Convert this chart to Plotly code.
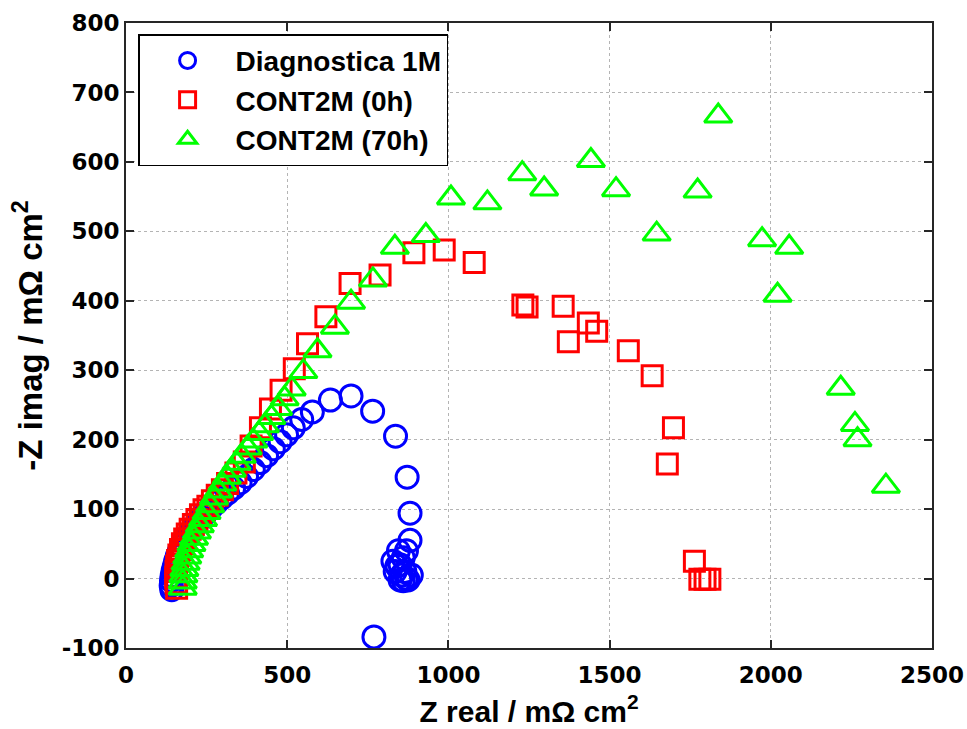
import plotly.graph_objects as go

# Nyquist data (Z real, -Z imag) in mOhm cm^2
diag_1m_re = [142, 140, 141, 143, 146, 150, 154, 159, 165, 172, 180, 189, 199, 210, 222,
              235, 249, 264, 280, 297, 315, 334, 354, 374, 395, 416, 436, 457, 478, 498,
              519, 545, 578, 634, 698, 765, 836, 872, 881, 881,
              870, 860, 850, 845, 840, 835, 828, 855, 860, 865, 870, 875, 885, 850, 769]
diag_1m_im = [-16, -10, -3, 4, 11, 18, 25, 32, 39, 46, 53, 60, 67, 74, 81,
              88, 95, 102, 109, 116, 123, 130, 138, 147, 157, 167, 177, 187, 197, 207,
              217, 229, 240, 257, 263, 241, 205, 146, 94, 55,
              40, 30, 20, 40, 18, 10, 25, 5, -3, 10, 0, -2, 5, -2, -84]

cont_0h_re = [157, 155, 154, 155, 157, 160, 164, 169, 175, 182, 190, 199, 209, 220, 231,
              242, 254, 268, 283, 299, 315, 341, 367, 388, 417, 448, 481, 522, 563, 620,
              695, 788, 893, 987, 1080, 1231, 1244, 1356, 1372, 1434, 1460, 1558, 1632,
              1698, 1679, 1763, 1780, 1796, 1811]
cont_0h_im = [-14, -6, 2, 10, 18, 26, 34, 42, 50, 57, 64, 71, 78, 85, 92,
              99, 104, 112, 120, 128, 137, 152, 168, 191, 217, 244, 271, 302, 338, 377,
              425, 437, 469, 473, 455, 394, 391, 392, 341, 368, 356, 328, 292,
              217, 165, 25, -1, -1, -1]

cont_70h_re = [176, 176, 178, 181, 185, 190, 196, 203, 211, 220, 229, 239, 250, 261, 273,
               286, 299, 313, 328, 343, 359, 377, 395, 413, 431, 451, 472, 492, 514, 550,
               594, 648, 698, 766, 834, 930, 1008, 1121, 1229, 1297, 1442, 1520, 1646,
               1773, 1837, 1973, 2021, 2057, 2217, 2261, 2269, 2357]
cont_70h_im = [-14, -5, 4, 13, 22, 31, 40, 49, 58, 67, 76, 85, 95, 105, 116,
               126, 136, 146, 156, 166, 176, 188, 198, 209, 220, 232, 245, 259, 273, 298,
               328, 362, 398, 430, 477, 494, 548, 541, 583, 561, 602, 560, 496,
               558, 666, 488, 408, 477, 274, 222, 200, 133]

x_ticks = [0, 500, 1000, 1500, 2000, 2500]
x_tick_labels = ["0", "500", "1000", "1500", "2000", "2500"]
y_ticks = [-100, 0, 100, 200, 300, 400, 500, 600, 700, 800]
y_tick_labels = ["-100", "0", "100", "200", "300", "400", "500", "600", "700", "800"]

TEXT_FONT = "Liberation Sans, Arial, sans-serif"
TICK_FONT = "DejaVu Sans, sans-serif"

fig = go.Figure()
fig.add_trace(go.Scatter(
    x=diag_1m_re, y=diag_1m_im, mode="markers", name="Diagnostica 1M",
    marker=dict(symbol="circle-open", size=22, color="#0000ff", line=dict(width=3, color="#0000ff")),
))
fig.add_trace(go.Scatter(
    x=cont_0h_re, y=cont_0h_im, mode="markers", name="CONT2M (0h)",
    marker=dict(symbol="square-open", size=20, color="#ff0000", line=dict(width=3, color="#ff0000")),
))
fig.add_trace(go.Scatter(
    x=cont_70h_re, y=cont_70h_im, mode="markers", name="CONT2M (70h)",
    marker=dict(symbol="triangle-up-open", size=24, color="#00ff00", line=dict(width=3, color="#00ff00")),
))

axis_common = dict(
    showline=True, linewidth=2, linecolor="#262626", mirror="allticks",
    ticks="inside", ticklen=8, tickwidth=2, tickcolor="#262626",
    showgrid=True, gridcolor="#b4b4b4", gridwidth=1, griddash="dot",
    zeroline=False, automargin=False,
    tickfont=dict(family=TICK_FONT, size=23, color="#000000", weight="bold"),
)

fig.update_xaxes(
    range=[0, 2500], tickmode="array", tickvals=x_ticks, ticktext=x_tick_labels,
    ticklabelstandoff=5,
    title=dict(text="Z real / mΩ cm<sup>2</sup>", standoff=14,
               font=dict(family=TEXT_FONT, size=30, color="#000000", weight="bold")),
    **axis_common,
)
fig.update_yaxes(
    range=[-100, 800], tickmode="array", tickvals=y_ticks, ticktext=y_tick_labels,
    title=dict(text="-Z imag / mΩ cm<sup>2</sup>", standoff=9,
               font=dict(family=TEXT_FONT, size=33, color="#000000", weight="bold")),
    **axis_common,
)

fig.update_layout(
    width=967, height=729,
    margin=dict(l=126, r=35, t=23, b=81),
    paper_bgcolor="#ffffff", plot_bgcolor="#ffffff",
    legend=dict(
        x=0.015, y=0.982, xanchor="left", yanchor="top",
        bgcolor="#ffffff", bordercolor="#000000", borderwidth=1.5,
        font=dict(family=TEXT_FONT, size=28, color="#000000", weight="bold"),
        itemwidth=86,
    ),
)

fig.write_html("out.html")
